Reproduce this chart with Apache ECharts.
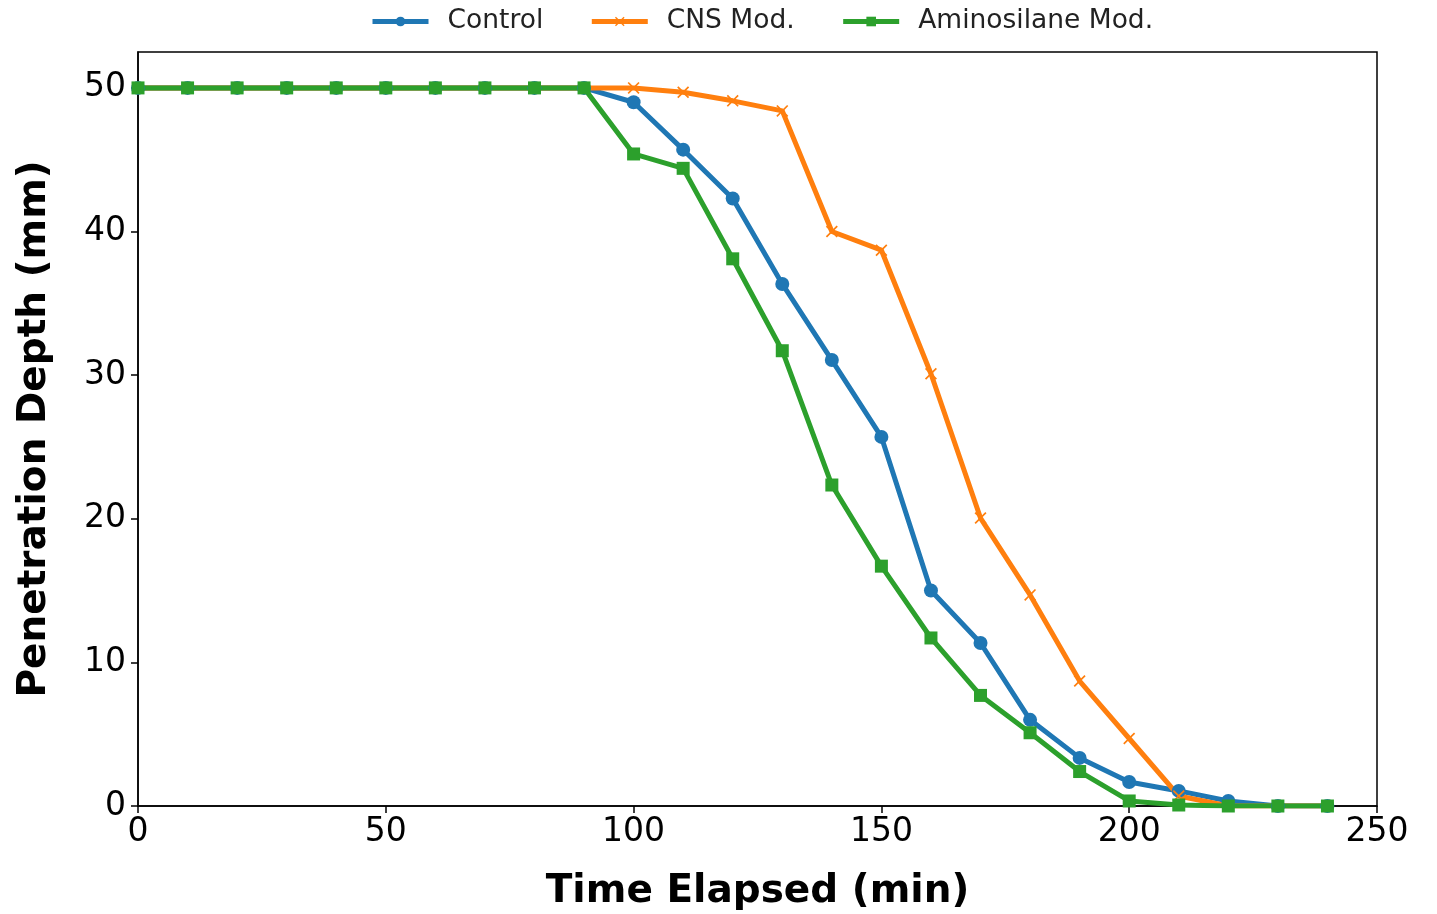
<!DOCTYPE html>
<html>
<head>
<meta charset="utf-8">
<script src="https://cdn.jsdelivr.net/npm/echarts@6/dist/echarts.min.js"></script>
<style>html,body{margin:0;padding:0;background:#fff}#c{width:1437px;height:914px}</style>
</head>
<body>
<div id="c"></div>
<script>
const times = [0,10,20,30,40,50,60,70,80,90,100,110,120,130,140,150,160,170,180,190,200,210,220,230,240];
const control = [50,50,50,50,50,50,50,50,50,50,49.0,45.7,42.3,36.35,31.05,25.7,15.0,11.35,6.0,3.35,1.67,1.05,0.35,0,0];
const cns = [50,50,50,50,50,50,50,50,50,50,50.0,49.7,49.1,48.4,40.0,38.7,30.1,20.05,14.7,8.7,4.7,0.7,0,0,0];
const amino = [50,50,50,50,50,50,50,50,50,50,45.4,44.4,38.1,31.7,22.35,16.7,11.7,7.7,5.1,2.4,0.35,0.07,0,0,0];
const seriesNames = ['Control','CNS Mod.','Aminosilane Mod.'];
const yTicks = [0,10,20,30,40,50];
const xTicks = [0,50,100,150,200,250];

const pair = (arr) => times.map((t,i)=>[t,arr[i]]);
const font = 'DejaVu Sans';
const xSym = 'path://M0,1 L1,0 L5,4 L9,0 L10,1 L6,5 L10,9 L9,10 L5,6 L1,10 L0,9 L4,5 Z';
const chart = echarts.init(document.getElementById('c'));
chart.setOption({
  animation:false,
  textStyle:{fontFamily:font},
  legend:{
    top:3, left:365, itemGap:46, itemWidth:56, itemHeight:12,
    lineStyle:{width:5},
    textStyle:{fontSize:26.5, color:'#222', fontFamily:font, padding:[0,0,0,14]},
    data:seriesNames
  },
  grid:{left:138, right:60, top:52, bottom:108, show:true, borderColor:'#000', borderWidth:1.5,
        containLabel:false, outerBoundsMode:'none'},
  xAxis:{
    type:'value', min:0, max:250, interval:50,
    name:'Time Elapsed (min)', nameLocation:'middle', nameGap:66,
    nameTextStyle:{fontSize:39, fontWeight:'bold', color:'#000', fontFamily:font},
    axisLine:{show:true, lineStyle:{color:'#000', width:1.5}},
    axisTick:{show:true, length:7, lineStyle:{color:'#000', width:1.5}, customValues:xTicks},
    axisLabel:{fontSize:33, color:'#000', margin:10, customValues:xTicks},
    splitLine:{show:false}
  },
  yAxis:{
    type:'value', min:0, max:52.5, interval:10,
    name:'Penetration Depth (mm)', nameLocation:'middle', nameGap:84, nameRotate:90,
    nameTextStyle:{fontSize:39, fontWeight:'bold', color:'#000', fontFamily:font},
    axisLine:{show:true, lineStyle:{color:'#000', width:1.5}},
    axisTick:{show:true, length:7, lineStyle:{color:'#000', width:1.5}, customValues:yTicks},
    axisLabel:{fontSize:33, color:'#000', margin:12, customValues:yTicks},
    splitLine:{show:false}
  },
  series:[
    {name:seriesNames[0], type:'line', data:pair(control), color:'#1f77b4',
     symbol:'circle', symbolSize:14, lineStyle:{width:5}, itemStyle:{color:'#1f77b4'}},
    {name:seriesNames[1], type:'line', data:pair(cns), color:'#ff7f0e',
     symbol:xSym, symbolSize:12, lineStyle:{width:5}, itemStyle:{color:'#ff7f0e'}},
    {name:seriesNames[2], type:'line', data:pair(amino), color:'#2ca02c',
     symbol:'rect', symbolSize:13, lineStyle:{width:5}, itemStyle:{color:'#2ca02c'}}
  ]
});
</script>
</body>
</html>
